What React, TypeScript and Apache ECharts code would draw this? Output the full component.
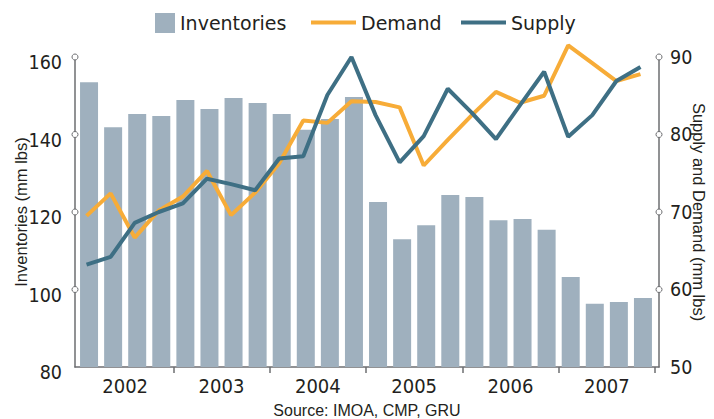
import React, { useEffect, useRef } from "react";
import * as echarts from "echarts";

const quarters = [
  "2002 Q1", "2002 Q2", "2002 Q3", "2002 Q4",
  "2003 Q1", "2003 Q2", "2003 Q3", "2003 Q4",
  "2004 Q1", "2004 Q2", "2004 Q3", "2004 Q4",
  "2005 Q1", "2005 Q2", "2005 Q3", "2005 Q4",
  "2006 Q1", "2006 Q2", "2006 Q3", "2006 Q4",
  "2007 Q1", "2007 Q2", "2007 Q3", "2007 Q4",
];
const years = ["2002", "2003", "2004", "2005", "2006", "2007"];

const inventories = [
  153.5, 141.9, 145.3, 144.8, 148.9, 146.6, 149.4, 148.1, 145.3, 141.2, 144.0, 149.7,
  122.6, 113.0, 116.6, 124.4, 123.9, 117.9, 118.2, 115.4, 103.2, 96.3, 96.8, 97.8,
];
const demand = [
  69.5, 72.4, 66.7, 70.2, 72.0, 75.3, 69.6, 72.5, 76.3, 81.8, 81.5, 84.3,
  84.2, 83.5, 76.0, 79.3, 82.5, 85.5, 84.1, 85.0, 91.5, 89.2, 86.9, 87.8,
];
const supply = [
  63.2, 64.2, 68.6, 70.0, 71.1, 74.3, 73.6, 72.8, 76.9, 77.2, 85.1, 90.0,
  82.5, 76.4, 79.8, 85.9, 82.8, 79.4, 83.8, 88.1, 79.7, 82.5, 86.9, 88.7,
];
const leftTicks = [80, 100, 120, 140, 160];
const rightTicks = [50, 60, 70, 80, 90];

const W = 714;
const H = 419;
const TOP = 57;
const BOTTOM = 52;
const AXIS_LEFT_X = 75;
const AXIS_RIGHT_X = 659;
const BAR_LEFT = 77;
const BAR_RIGHT = 655;
const LINE_SHIFT = 2.5;

const TEXT = "#231f20";
const AXIS = "#6d6e71";
const BAR = "#9fb0be";
const DEMAND = "#f7ac38";
const SUPPLY = "#3e6f84";
const COND = "'DejaVu Sans Condensed', 'Liberation Sans Narrow', sans-serif";
const REG = "'Liberation Sans', Arial, sans-serif";

export default function App() {
  const ref = useRef<HTMLDivElement>(null);

  useEffect(() => {
    if (!ref.current) return;
    const chart = echarts.init(ref.current, undefined, { renderer: "svg" });
    const axisLineStyle = { color: AXIS, width: 1.5 };
    const legendText = { fontFamily: "'DejaVu Sans', sans-serif", fontSize: 19, color: TEXT };

    const option: any = {
      animation: false,
      backgroundColor: "#ffffff",
      grid: [
        { left: BAR_LEFT, right: W - BAR_RIGHT, top: TOP, bottom: BOTTOM, outerBoundsMode: "none" },
        { left: BAR_LEFT - LINE_SHIFT, right: W - BAR_RIGHT + LINE_SHIFT, top: TOP, bottom: BOTTOM, outerBoundsMode: "none" },
        { left: AXIS_LEFT_X, right: W - AXIS_RIGHT_X, top: TOP, bottom: BOTTOM, outerBoundsMode: "none" },
      ],
      xAxis: [
        {
          gridIndex: 0,
          type: "category",
          data: quarters,
          position: "bottom",
          axisLine: { show: false },
          axisTick: {
            show: true,
            interval: (i: number) => i % 4 === 0 && i > 0,
            length: 6,
            lineStyle: axisLineStyle,
          },
          axisLabel: { show: false },
          splitLine: { show: false },
        },
        {
          gridIndex: 0,
          type: "category",
          data: years,
          position: "bottom",
          axisLine: { show: false },
          axisTick: { show: false },
          axisLabel: { show: true, interval: 0, margin: 9, fontFamily: COND, fontSize: 20, color: TEXT },
          splitLine: { show: false },
        },
        { gridIndex: 1, type: "category", data: quarters, show: false },
        {
          gridIndex: 2,
          type: "category",
          data: years,
          position: "bottom",
          axisLine: { show: true, lineStyle: axisLineStyle },
          axisTick: { show: false },
          axisLabel: { show: false },
          splitLine: { show: false },
        },
      ],
      yAxis: [
        { gridIndex: 0, type: "value", show: false, min: leftTicks[0], max: leftTicks[leftTicks.length - 1], interval: 20 },
        { gridIndex: 1, type: "value", show: false, min: rightTicks[0], max: rightTicks[rightTicks.length - 1], interval: 10 },
        {
          gridIndex: 2,
          type: "value",
          position: "left",
          min: leftTicks[0],
          max: leftTicks[leftTicks.length - 1],
          interval: 20,
          axisLine: { show: true, lineStyle: axisLineStyle },
          axisTick: { show: false },
          splitLine: { show: false },
          axisLabel: { margin: 13, fontFamily: COND, fontSize: 19.5, color: TEXT, verticalAlign: "top", lineHeight: 11 },
          name: "Inventories (mm lbs)",
          nameLocation: "middle",
          nameRotate: 90,
          nameGap: 46,
          nameMoveOverlap: false,
          nameTextStyle: { fontFamily: REG, fontSize: 16.5, color: TEXT },
        },
        {
          gridIndex: 2,
          type: "value",
          position: "right",
          min: rightTicks[0],
          max: rightTicks[rightTicks.length - 1],
          interval: 10,
          axisLine: { show: true, lineStyle: axisLineStyle },
          axisTick: { show: false },
          splitLine: { show: false },
          axisLabel: { margin: 11, fontFamily: COND, fontSize: 19.5, color: TEXT },
          name: "Supply and Demand (mm lbs)",
          nameLocation: "middle",
          nameRotate: -90,
          nameGap: 31,
          nameMoveOverlap: false,
          nameTextStyle: { fontFamily: REG, fontSize: 16.5, color: TEXT },
        },
      ],
      legend: [
        {
          data: [{ name: "Inventories", icon: "rect" }],
          left: 155, top: 13, padding: 0, itemWidth: 20, itemHeight: 20, textStyle: legendText,
        },
        {
          data: [{ name: "Demand", icon: "rect" }],
          left: 311, top: 13, padding: 0, itemWidth: 45, itemHeight: 4, textStyle: legendText,
        },
        {
          data: [{ name: "Supply", icon: "rect" }],
          left: 461, top: 13, padding: 0, itemWidth: 45, itemHeight: 4, textStyle: legendText,
        },
      ],
      series: [
        {
          name: "Inventories", type: "bar", xAxisIndex: 0, yAxisIndex: 0, data: inventories,
          barWidth: 18, itemStyle: { color: BAR },
        },
        {
          name: "Demand", type: "line", xAxisIndex: 2, yAxisIndex: 1, data: demand, symbol: "none",
          clip: false, lineStyle: { color: DEMAND, width: 4 }, itemStyle: { color: DEMAND }, z: 3,
        },
        {
          name: "Supply", type: "line", xAxisIndex: 2, yAxisIndex: 1, data: supply, symbol: "none",
          clip: false, lineStyle: { color: SUPPLY, width: 4 }, itemStyle: { color: SUPPLY }, z: 4,
        },
      ],
    };
    chart.setOption(option);

    const graphics: any[] = [
      {
        type: "text", x: (AXIS_LEFT_X + AXIS_RIGHT_X) / 2, y: 410,
        style: { text: "Source: IMOA, CMP, GRU", fontFamily: REG, fontSize: 16, fill: TEXT, align: "center", verticalAlign: "middle" },
      },
    ];
    leftTicks.slice(1).forEach((v) => {
      const y = chart.convertToPixel({ yAxisIndex: 0 }, v) as number;
      graphics.push({ type: "circle", shape: { cx: AXIS_LEFT_X, cy: y, r: 3 }, style: { fill: "#ffffff", stroke: AXIS, lineWidth: 1 }, z: 20 });
    });
    rightTicks.slice(1).forEach((v) => {
      const y = chart.convertToPixel({ yAxisIndex: 1 }, v) as number;
      graphics.push({ type: "circle", shape: { cx: AXIS_RIGHT_X, cy: y, r: 3 }, style: { fill: "#ffffff", stroke: AXIS, lineWidth: 1 }, z: 20 });
    });
    chart.setOption({ graphic: graphics });

    return () => chart.dispose();
  }, []);

  return <div ref={ref} style={{ position: "absolute", left: 0, top: 0, width: W, height: H }} />;
}
